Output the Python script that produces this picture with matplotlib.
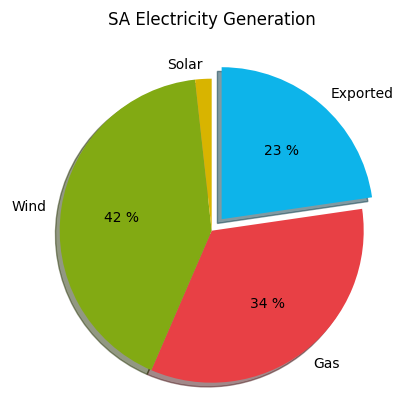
import matplotlib.pyplot as plt

labels = ["Exported", "Gas", "Wind", "Solar"]
shares = [22.7, 33.8, 41.75, 1.75]
colors = ["#0db4ea", "#e84045", "#82aa13", "#d8b400"]
explode = [0.1, 0, 0, 0]


def pct_label(p):
    # hide the tiny solar slice
    return f"{p:.0f} %" if p > 5 else ""


fig = plt.figure(figsize=(4.04, 4.14), dpi=100)
ax = fig.add_axes([0.0537, -0.0186, 0.9406, 0.9179])
ax.pie(shares, labels=labels, colors=colors, explode=explode,
       autopct=pct_label, shadow=True, startangle=90, counterclock=False)
ax.set_title("SA Electricity Generation", pad=12)
fig.savefig("out.png")
